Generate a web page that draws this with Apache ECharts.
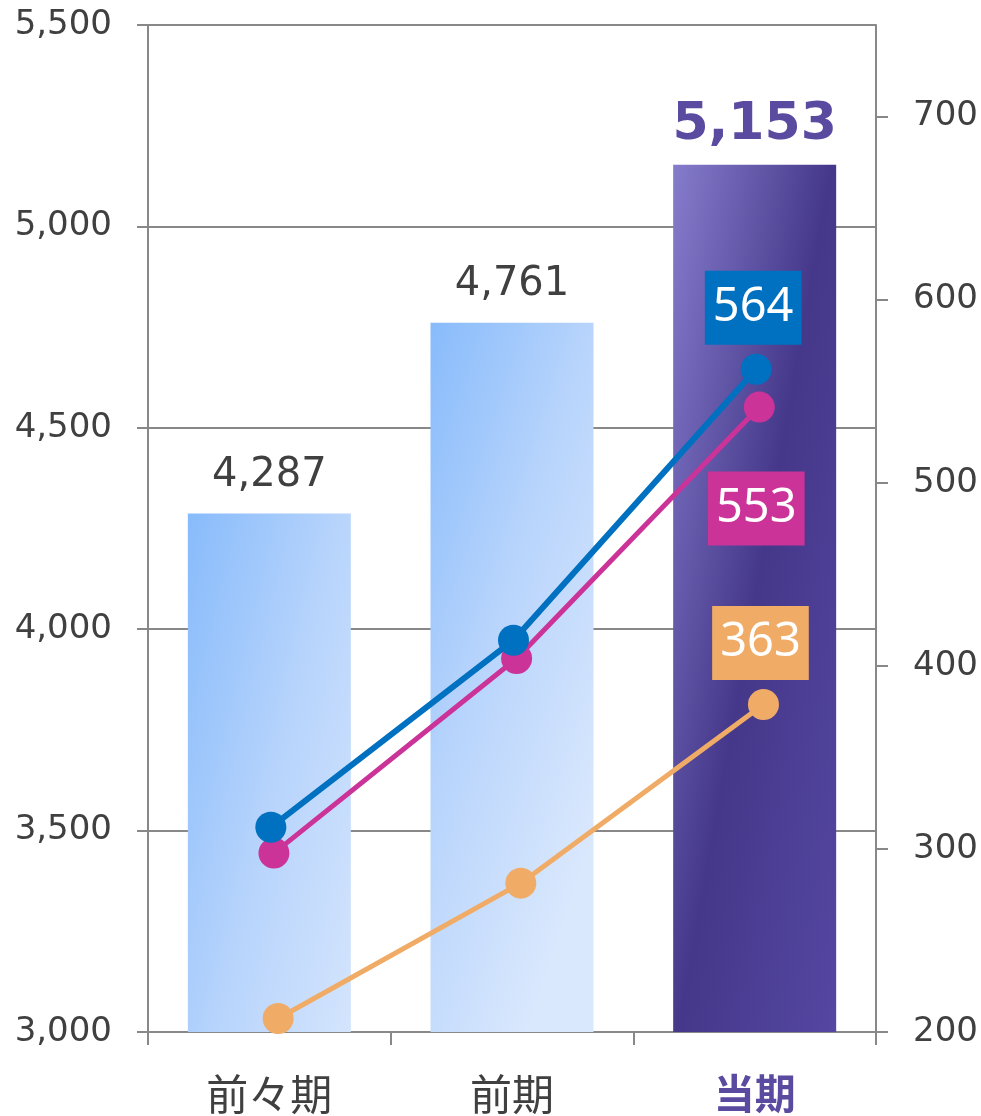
<!DOCTYPE html>
<html><head><meta charset="utf-8">
<script src="https://cdn.jsdelivr.net/npm/echarts@6/dist/echarts.min.js"></script>
<style>html,body{margin:0;padding:0;background:#fff}#c{width:981px;height:1116px}</style>
</head><body><div id="c"></div>
<script>
// ---- data ----
const categories = ['前々期', '前期', '当期'];
const barValues = [4287, 4761, 5153];
const blueValues = [311.8, 414, 562];
const magentaValues = [297.7, 404, 541.3];
const orangeValues = [207.4, 281.3, 378.9];
const lineEndLabels = ['564', '553', '363']; // blue, magenta, orange
const leftTicks = [3000, 3500, 4000, 4500, 5000, 5500];
const rightTicks = [200, 300, 400, 500, 600, 700];
const rightMax = 750;

// ---- styles ----
const AX = '#888888';
const TXT = '#404040';
const PURPLE = '#5a4aa0';
const NUM_FONT = '"DejaVu Sans", Verdana, sans-serif';
const JP_FONT = '"Noto Sans CJK JP", sans-serif';
const G = echarts.graphic.LinearGradient;

const blueBar = new G(0, 0, 1.85, 0.14, [
  {offset: 0, color: '#88bbfb'}, {offset: 0.5, color: '#b9d5fc'}, {offset: 1, color: '#dae8fd'}]);
const purpleBar = new G(0, 0, 1.89, 0.063, [
  {offset: 0, color: '#867ccc'}, {offset: 0.5, color: '#45388a'}, {offset: 1, color: '#5547a2'}]);

const gridBase = {top: 25, bottom: 84};
const L = 148, R = 105;
const offsets = [0, 8.8, 4.6, 1.5]; // bars, orange, magenta, blue
const grids = offsets.map(o => Object.assign({left: L + o, right: R - o}, gridBase));

const xAxes = grids.map((g, i) => i === 0 ? {
  type: 'category', gridIndex: 0, data: categories, boundaryGap: true,
  axisLine: {show: true, lineStyle: {color: AX, width: 2}},
  axisTick: {show: true, length: 13, lineStyle: {color: AX, width: 2}},
  axisLabel: {
    margin: 41, fontSize: 42, fontFamily: JP_FONT, color: TXT,
    formatter: (v, i) => i === categories.length - 1 ? '{b|' + v + '}' : v,
    rich: {b: {fontSize: 41, fontFamily: JP_FONT, fontWeight: 'bold', color: PURPLE}}
  }
} : {type: 'category', gridIndex: i, data: categories, show: false, boundaryGap: true});

const yAxes = [
  {
    type: 'value', gridIndex: 0, position: 'left',
    min: leftTicks[0], max: leftTicks[leftTicks.length - 1], interval: leftTicks[1] - leftTicks[0],
    axisLine: {show: true, lineStyle: {color: AX, width: 2}},
    axisTick: {show: true, length: 11, lineStyle: {color: AX, width: 2}},
    splitLine: {show: true, lineStyle: {color: AX, width: 2}},
    axisLabel: {margin: 36, fontSize: 34, fontFamily: NUM_FONT, color: TXT,
      formatter: v => v.toLocaleString('en-US')}
  },
  {
    type: 'value', gridIndex: 0, position: 'right',
    min: rightTicks[0], max: rightMax, interval: rightTicks[1] - rightTicks[0],
    axisLine: {show: true, lineStyle: {color: AX, width: 2}},
    axisTick: {show: true, length: 12, lineStyle: {color: AX, width: 2}, customValues: rightTicks},
    splitLine: {show: false},
    axisLabel: {margin: 37, fontSize: 34, fontFamily: NUM_FONT, color: TXT, customValues: rightTicks}
  }
];
for (let i = 1; i < grids.length; i++) {
  yAxes.push({type: 'value', gridIndex: i, min: rightTicks[0], max: rightMax, show: false});
}

function lineSeries(values, gi, color, width, endLabel, pos, dist) {
  const last = values.length - 1;
  return {
    type: 'line', xAxisIndex: gi, yAxisIndex: gi + 1,
    symbol: 'circle', symbolSize: 31,
    lineStyle: {color: color, width: width},
    itemStyle: {color: color},
    z: 3,
    data: values.map((v, i) => i === last ? {
      value: v,
      label: {show: true, formatter: endLabel, position: pos, distance: dist, offset: [-3, 0],
        color: '#fff', fontSize: 47, fontFamily: '"Noto Sans", sans-serif', lineHeight: 52,
        backgroundColor: color, padding: [11, 8, 11, 8]}
    } : v)
  };
}

const option = {
  animation: false,
  grid: grids,
  xAxis: xAxes,
  yAxis: yAxes,
  series: [
    {
      type: 'bar', xAxisIndex: 0, yAxisIndex: 0, barWidth: 163,
      data: barValues.map((v, i) => {
        const isLast = i === barValues.length - 1;
        return {
          value: v,
          itemStyle: {color: isLast ? purpleBar : blueBar},
          label: isLast ? {fontSize: 52, fontWeight: 'bold', color: PURPLE, distance: 13} : {}
        };
      }),
      label: {show: true, position: 'top', distance: 18, fontSize: 40, fontFamily: NUM_FONT, color: TXT,
        formatter: p => p.value.toLocaleString('en-US')}
    },
    lineSeries(orangeValues, 1, '#f0ac66', 5, lineEndLabels[2], 'top', 9),
    lineSeries(magentaValues, 2, '#cc3399', 5, lineEndLabels[1], 'bottom', 49),
    lineSeries(blueValues, 3, '#0070c0', 6, lineEndLabels[0], 'top', 9)
  ]
};
const chart = echarts.init(document.getElementById('c'), null, {renderer: 'canvas'});
chart.setOption(option);
</script></body></html>
